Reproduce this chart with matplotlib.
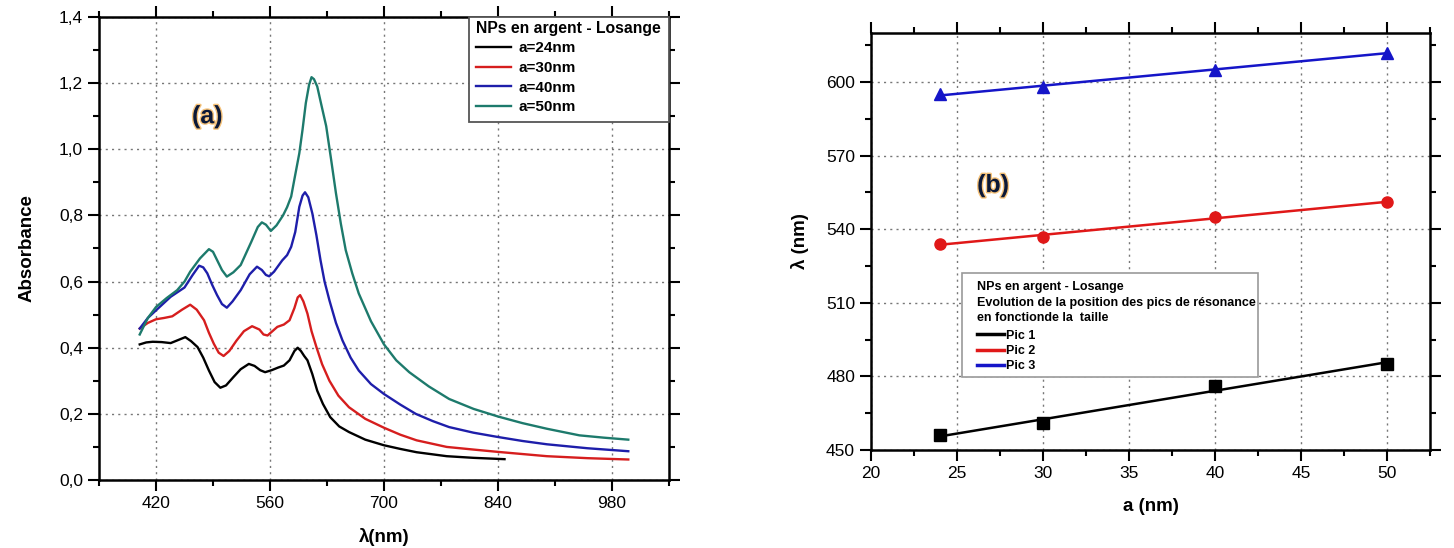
import numpy as np
import matplotlib
matplotlib.use("Agg")
import matplotlib.pyplot as plt
from matplotlib.ticker import MultipleLocator, FixedLocator, FuncFormatter
from matplotlib.patches import Rectangle
import matplotlib.patheffects as pe

plt.rcParams['font.family'] = ['Liberation Sans', 'DejaVu Sans']

# --- (a) spectres d'absorbance ---
wl_24 = [400, 408, 416, 427, 438, 447, 456, 463, 471, 478, 485, 492, 499, 506, 515, 524, 534, 541, 548, 554,
         562, 570, 577, 584, 590, 594, 598, 602, 606, 612, 618, 625, 634, 645, 657, 677, 700, 720, 740, 777, 810, 848]
ab_24 = [0.41, 0.416, 0.418, 0.417, 0.414, 0.423, 0.432, 0.42, 0.402, 0.37, 0.331, 0.296, 0.279, 0.286, 0.311, 0.335,
         0.351, 0.345, 0.332, 0.326, 0.332, 0.34, 0.346, 0.362, 0.39, 0.40, 0.39, 0.375, 0.362, 0.32, 0.27, 0.23, 0.19,
         0.162, 0.145, 0.122, 0.105, 0.094, 0.084, 0.072, 0.067, 0.063]

wl_30 = [400, 410, 420, 430, 440, 452, 462, 470, 479, 485, 491, 497, 503, 510, 519, 528, 538, 547, 552, 557, 563,
         569, 577, 584, 590, 594, 597, 601, 606, 611, 617, 624, 633, 644, 657, 677, 700, 720, 740, 777, 810, 840,
         900, 950, 1000]
ab_30 = [0.458, 0.475, 0.486, 0.49, 0.495, 0.515, 0.53, 0.515, 0.483, 0.445, 0.412, 0.385, 0.375, 0.39, 0.422, 0.45,
         0.465, 0.455, 0.44, 0.437, 0.45, 0.463, 0.47, 0.483, 0.52, 0.552, 0.559, 0.54, 0.503, 0.45, 0.402, 0.35, 0.30,
         0.255, 0.22, 0.185, 0.158, 0.137, 0.12, 0.10, 0.092, 0.085, 0.072, 0.066, 0.062]

wl_40 = [400, 410, 420, 438, 455, 465, 473, 478, 483, 489, 495, 501, 507, 514, 524, 535, 544, 550, 555, 559, 565,
         575, 581, 586, 591, 596, 600, 603, 607, 612, 617, 622, 627, 633, 641, 649, 659, 669, 684, 700, 720, 739,
         760, 780, 810, 840, 870, 900, 950, 1000]
ab_40 = [0.458, 0.49, 0.513, 0.554, 0.582, 0.62, 0.648, 0.643, 0.625, 0.59, 0.559, 0.532, 0.521, 0.54, 0.574, 0.622,
         0.645, 0.635, 0.62, 0.616, 0.63, 0.664, 0.68, 0.705, 0.75, 0.826, 0.86, 0.87, 0.855, 0.806, 0.74, 0.665, 0.60,
         0.543, 0.475, 0.422, 0.37, 0.331, 0.29, 0.26, 0.228, 0.20, 0.178, 0.16, 0.143, 0.13, 0.118, 0.108, 0.096, 0.087]

wl_50 = [400, 410, 420, 433, 446, 455, 462, 474, 485, 490, 495, 501, 507, 515, 524, 537, 545, 550, 555, 561, 568,
         576, 581, 586, 590, 596, 600, 604, 608, 611, 614, 618, 623, 629, 635, 641, 647, 653, 661, 669, 684, 700,
         715, 731, 755, 780, 810, 840, 870, 900, 940, 970, 1000]
ab_50 = [0.44, 0.49, 0.523, 0.55, 0.574, 0.60, 0.63, 0.67, 0.698, 0.69, 0.665, 0.635, 0.615, 0.628, 0.65, 0.72, 0.765,
         0.779, 0.772, 0.753, 0.77, 0.80, 0.825, 0.857, 0.91, 0.988, 1.06, 1.14, 1.195, 1.218, 1.212, 1.19, 1.135, 1.07,
         0.97, 0.867, 0.775, 0.695, 0.625, 0.564, 0.48, 0.41, 0.362, 0.326, 0.283, 0.245, 0.215, 0.192, 0.172, 0.155,
         0.135, 0.128, 0.122]

# --- (b) position des pics ---
taille = [24, 30, 40, 50]
pic1 = [456, 461, 476, 485]
pic2 = [534, 537, 545, 551]
pic3 = [595, 598, 605, 612]

W, H = 1454, 548
fig = plt.figure(figsize=(W/100, H/100), dpi=100)
ax1 = fig.add_axes([99/W, 1-480/H, 570/W, 463/H])
ax2 = fig.add_axes([871/W, 1-450/H, 559/W, 417/H])

# panneau (a)
ax1.plot(wl_24, ab_24, color='black', lw=1.7, label='a=24nm')
ax1.plot(wl_30, ab_30, color='#d61e1e', lw=1.7, label='a=30nm')
ax1.plot(wl_40, ab_40, color='#1e1eaa', lw=1.7, label='a=40nm')
ax1.plot(wl_50, ab_50, color='#1d7a6c', lw=1.7, label='a=50nm')
ax1.set_xlim(350, 1050)
ax1.set_ylim(0, 1.4)
ax1.xaxis.set_major_locator(FixedLocator([420, 560, 700, 840, 980]))
ax1.xaxis.set_minor_locator(FixedLocator([350, 490, 630, 770, 910, 1050]))
ax1.yaxis.set_major_locator(MultipleLocator(0.2))
ax1.yaxis.set_minor_locator(MultipleLocator(0.1))
ax1.yaxis.set_major_formatter(FuncFormatter(lambda v, p: f"{v:.1f}".replace('.', ',')))
ax1.set_xlabel('λ(nm)', fontsize=13.5, fontweight='bold', labelpad=12)
ax1.set_ylabel('Absorbance', fontsize=13.5, fontweight='bold', labelpad=17)
ax1.text(483, 1.10, '(a)', fontsize=18, fontweight='bold', color='#0b1838', ha='center', va='center',
         path_effects=[pe.withStroke(linewidth=2, foreground='#f5c27a')])
ax1.add_patch(Rectangle((469/W, 1-122/H), 200/W, 105/H, transform=fig.transFigure, clip_on=False,
                        facecolor='white', edgecolor='#555555', lw=1.3, zorder=4))
leg1 = ax1.legend(title='NPs en argent - Losange', loc='upper left', bbox_to_anchor=(476/W, 1-21/H),
                  bbox_transform=fig.transFigure, fontsize=11, frameon=False, borderaxespad=0, borderpad=0,
                  handlelength=2.3, handletextpad=0.45, labelspacing=0.36, alignment='left',
                  title_fontproperties={'weight': 'bold', 'size': 11.3})
leg1.set_zorder(5)
for t in leg1.get_texts():
    t.set_fontweight('bold')

# panneau (b)
for y, c, m, lab in [(pic1, 'black', 's', 'Pic 1'), (pic2, '#e01818', 'o', 'Pic 2'), (pic3, '#1515c8', '^', 'Pic 3')]:
    k, b = np.polyfit(taille, y, 1)
    ax2.plot([taille[0], taille[-1]], [k*taille[0]+b, k*taille[-1]+b], color=c, lw=1.8, label=lab)
    ax2.plot(taille, y, linestyle='none', marker=m, color=c, markersize=8)
ax2.set_xlim(20, 52.5)
ax2.set_ylim(450, 620)
ax2.xaxis.set_major_locator(MultipleLocator(5))
ax2.xaxis.set_minor_locator(MultipleLocator(2.5))
ax2.yaxis.set_major_locator(MultipleLocator(30))
ax2.yaxis.set_minor_locator(MultipleLocator(15))
ax2.set_xlabel('a (nm)', fontsize=13.5, fontweight='bold', labelpad=12)
ax2.set_ylabel('λ (nm)', fontsize=13.5, fontweight='bold', labelpad=12)
ax2.text(27.1, 558, '(b)', fontsize=18, fontweight='bold', color='#0b1838', ha='center', va='center',
         path_effects=[pe.withStroke(linewidth=2, foreground='#f5c27a')])
ax2.add_patch(Rectangle((962/W, 1-377/H), 296/W, 104/H, transform=fig.transFigure, clip_on=False,
                        facecolor='white', edgecolor='#999999', lw=1.2, zorder=4))
leg2 = ax2.legend(title='NPs en argent - Losange\nEvolution de la position des pics de résonance\nen fonctionde la  taille',
                  loc='upper left', bbox_to_anchor=(977/W, 1-281/H), bbox_transform=fig.transFigure,
                  fontsize=9, frameon=False, borderaxespad=0, borderpad=0, handlelength=2.15,
                  handletextpad=0.15, labelspacing=0.25, alignment='left',
                  title_fontproperties={'weight': 'bold', 'size': 9})
leg2.set_zorder(5)
leg2.get_title().set_linespacing(1.4)
leg2._legend_box.sep = 4
for t in leg2.get_texts():
    t.set_fontweight('bold')
for h in leg2.legend_handles:
    h.set_linewidth(2.5)

for ax in (ax1, ax2):
    ax.grid(True, which='major', linestyle=(0, (1.5, 3)), color='#777777', lw=1.0)
    ax.tick_params(which='both', direction='out', top=True, right=True, labelsize=12.5, width=1.5)
    ax.tick_params(which='major', length=8)
    ax.tick_params(which='minor', length=4.5)
    for s in ax.spines.values():
        s.set_linewidth(1.8)

fig.savefig('out.png', dpi=100)
